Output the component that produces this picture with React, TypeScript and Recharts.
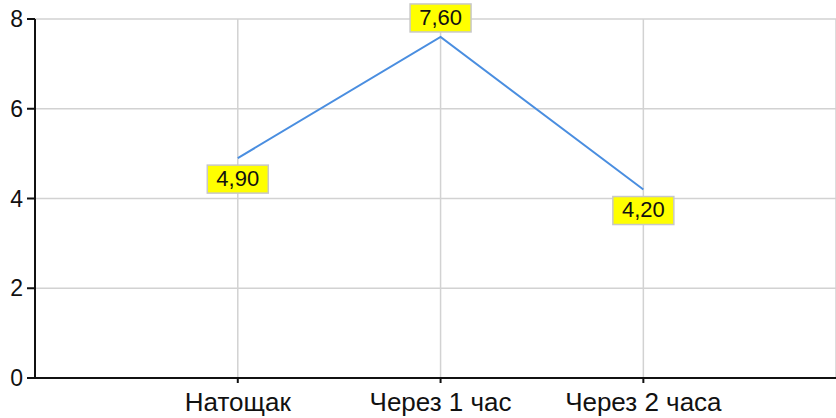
import { LineChart, Line, XAxis, YAxis, CartesianGrid } from "recharts"

// чтения глюкометра, ммоль/л
const categories = ["Натощак", "Через 1 час", "Через 2 часа"]
const glucose = [4.9, 7.6, 4.2]
const yTicks = [0, 2, 4, 6, 8]

const chartData = categories.map((name, i) => ({ x: i + 1, name, value: glucose[i] }))
const xTicks = chartData.map((d) => d.x)
const maxValue = Math.max(...glucose)

const FONT = "'Liberation Sans', Arial, sans-serif"

function ValueBox(props: any) {
  const { x, y, value } = props
  if (x == null || y == null) return null
  const text = Number(value).toFixed(2).replace(".", ",")
  const w = 61
  const h = 28
  const above = value === maxValue
  const top = above ? y - 33 : y + 7
  return (
    <g>
      <rect x={x - w / 2} y={top} width={w} height={h} fill="#ffff00" stroke="#c8c8c8" strokeWidth={1.5} />
      <text
        x={x}
        y={top + h / 2 + 1}
        textAnchor="middle"
        dominantBaseline="middle"
        fontFamily={FONT}
        fontSize={22}
        fill="#111"
      >
        {text}
      </text>
    </g>
  )
}

export default function App() {
  return (
    <div style={{ position: "absolute", left: 0, top: 0, width: 836, height: 418, background: "#fff" }}>
      <LineChart width={836} height={418} data={chartData} margin={{ top: 19, right: 0, left: 0, bottom: 0 }}>
        <CartesianGrid stroke="#d2d2d2" strokeWidth={1.5} />
        <XAxis
          dataKey="x"
          type="number"
          domain={[0, 3.95]}
          ticks={xTicks}
          tickFormatter={(v) => categories[v - 1] ?? ""}
          height={40}
          tickSize={5}
          tickMargin={10}
          axisLine={{ stroke: "#111", strokeWidth: 2 }}
          tickLine={{ stroke: "#111", strokeWidth: 2 }}
          tick={{ fontSize: 26, fill: "#111", fontFamily: FONT }}
        />
        <YAxis
          domain={[0, 8]}
          ticks={yTicks}
          width={35}
          tickSize={8}
          tickMargin={4}
          axisLine={{ stroke: "#111", strokeWidth: 2 }}
          tickLine={{ stroke: "#111", strokeWidth: 2 }}
          tick={{ fontSize: 23, fill: "#111", fontFamily: FONT }}
        />
        <Line
          dataKey="value"
          stroke="#4a8ee0"
          strokeWidth={2}
          dot={false}
          isAnimationActive={false}
          label={<ValueBox />}
        />
      </LineChart>
    </div>
  )
}
